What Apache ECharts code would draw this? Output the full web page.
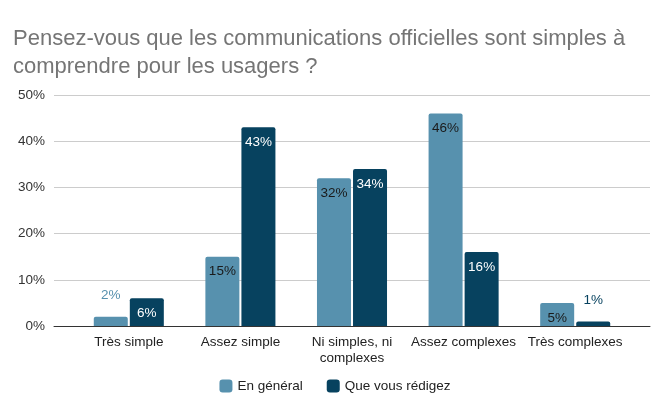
<!DOCTYPE html>
<html>
<head>
<meta charset="utf-8">
<script src="https://cdn.jsdelivr.net/npm/echarts@6/dist/echarts.min.js"></script>
<style>
  html, body { margin: 0; padding: 0; background: #fff; }
  #main { width: 670px; height: 414px; }
</style>
</head>
<body>
<div id="main"></div>
<script>
var categories = ['Très simple', 'Assez simple', 'Ni simples, ni\ncomplexes', 'Assez complexes', 'Très complexes'];
var enGeneral = [2, 15, 32, 46, 5];
var queVousRedigez = [6, 43, 34, 16, 1];
var yTicks = [0, 10, 20, 30, 40, 50];

var light = '#5791ae';
var dark = '#07425f';
var font = 'Liberation Sans, Arial, sans-serif';

// petites barres: étiquette au-dessus, sinon dans la barre
function labelled(values, barColor, insideColor) {
    return values.map(function (v) {
        var small = v < 3;
        return {
            value: v,
            label: {
                show: true,
                position: small ? 'top' : 'insideTop',
                distance: small ? 14 : 8,
                color: small ? barColor : insideColor,
                fontSize: 13.5,
                fontFamily: font,
                formatter: '{c}%'
            }
        };
    });
}

var myChart = echarts.init(document.getElementById('main'));
var option = {
    animation: false,
    title: {
        text: 'Pensez-vous que les communications officielles sont simples à\ncomprendre pour les usagers ?',
        left: 8,
        top: 20,
        textStyle: {
            fontFamily: font,
            fontSize: 22,
            fontWeight: 'normal',
            color: '#757575',
            lineHeight: 28
        }
    },
    legend: {
        bottom: 16,
        left: 'center',
        itemWidth: 13,
        itemHeight: 13,
        itemGap: 24,
        icon: 'roundRect',
        textStyle: { fontFamily: font, fontSize: 13.5, color: '#222' },
        data: ['En général', 'Que vous rédigez']
    },
    grid: [
        { left: 54, right: 20, top: 95, bottom: 88 },
        { left: 73, right: 39, top: 95, bottom: 88 }
    ],
    xAxis: [
        {
            type: 'category', gridIndex: 0, data: [''],
            axisLine: { lineStyle: { color: '#333', width: 1 } },
            axisTick: { show: false }, axisLabel: { show: false }
        },
        {
            type: 'category', gridIndex: 1, data: categories,
            axisLine: { show: false }, axisTick: { show: false },
            axisLabel: {
                fontFamily: font, fontSize: 13.5, color: '#222',
                margin: 8, lineHeight: 16, interval: 0
            }
        }
    ],
    yAxis: [
        {
            type: 'value', gridIndex: 0, min: yTicks[0], max: yTicks[yTicks.length - 1], interval: 10,
            axisLine: { show: false }, axisTick: { show: false },
            axisLabel: { formatter: '{value}%', fontFamily: font, fontSize: 13.5, color: '#333', margin: 9 },
            splitLine: { lineStyle: { color: '#ccc' } }
        },
        {
            type: 'value', gridIndex: 1, min: yTicks[0], max: yTicks[yTicks.length - 1], interval: 10,
            show: false, splitLine: { show: false }
        }
    ],
    series: [
        {
            name: 'En général', type: 'bar', xAxisIndex: 1, yAxisIndex: 1,
            barWidth: 34, barGap: '6%',
            itemStyle: { color: light, borderRadius: [2, 2, 0, 0] },
            data: labelled(enGeneral, light, '#1a1a1a')
        },
        {
            name: 'Que vous rédigez', type: 'bar', xAxisIndex: 1, yAxisIndex: 1,
            barWidth: 34,
            itemStyle: { color: dark, borderRadius: [2, 2, 0, 0] },
            data: labelled(queVousRedigez, dark, '#fff')
        }
    ]
};
myChart.setOption(option);
window.onresize = myChart.resize;
</script>
</body>
</html>
